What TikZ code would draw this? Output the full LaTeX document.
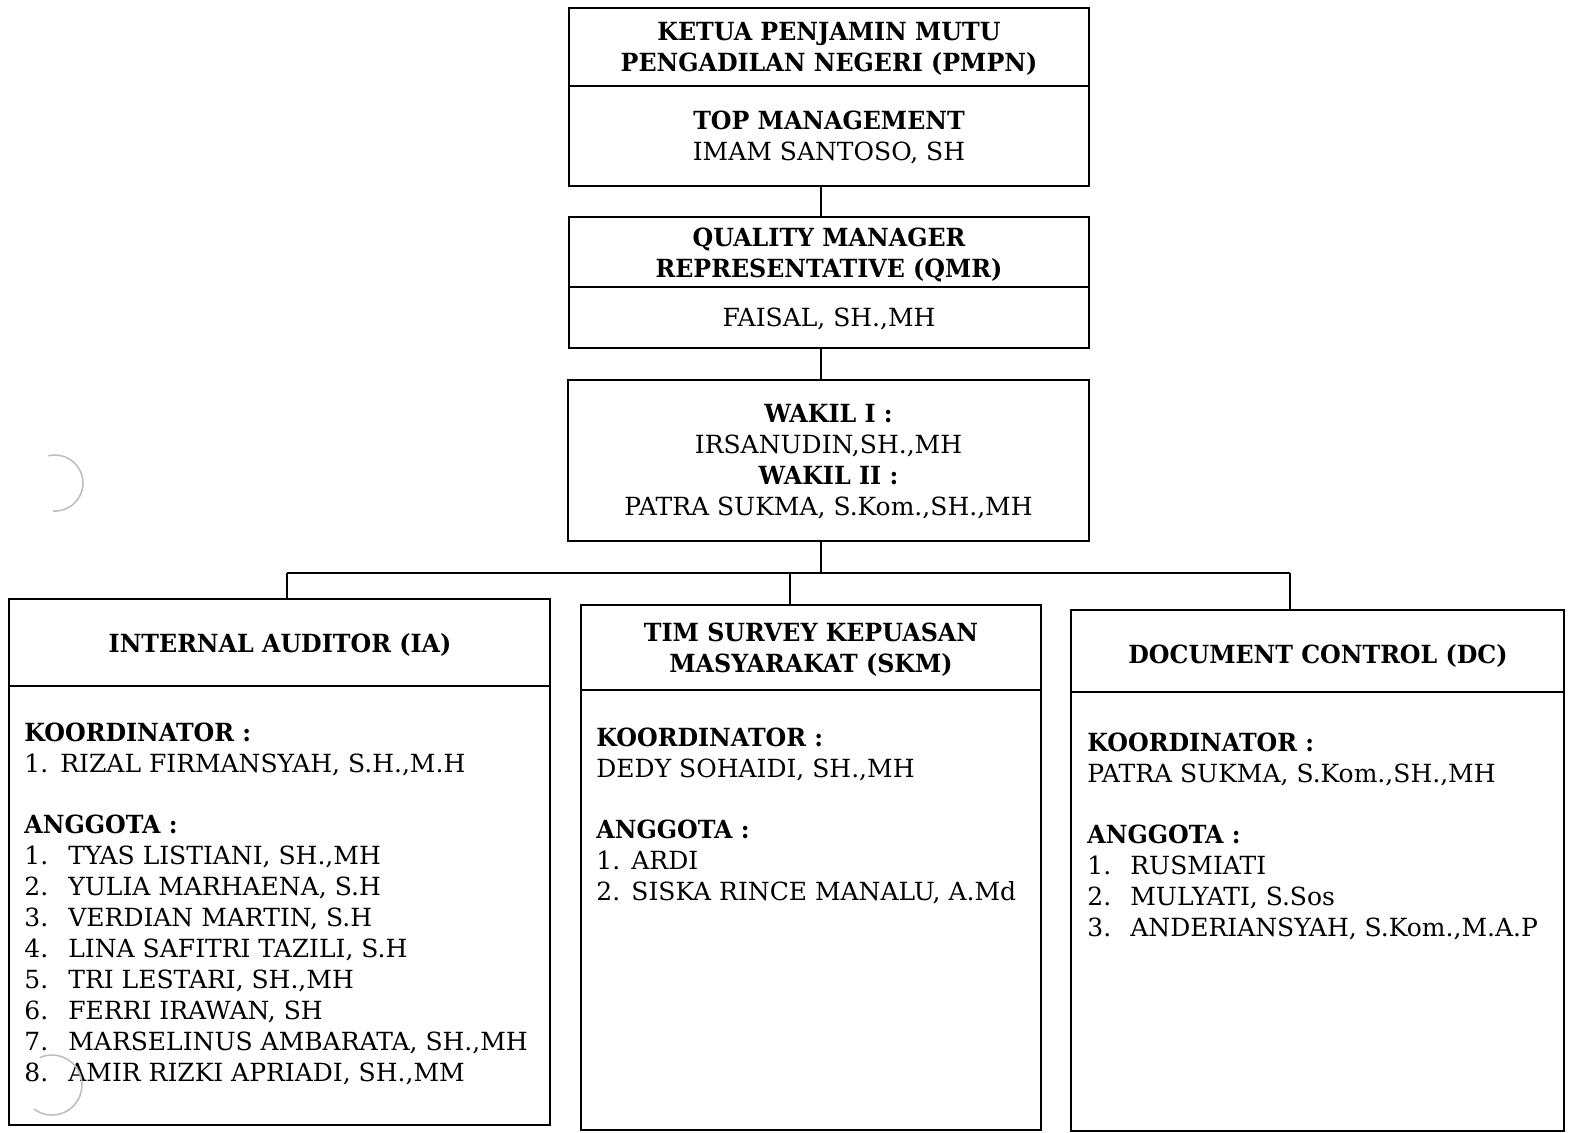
\documentclass[tikz,border=0pt]{standalone}
\usepackage{fontspec}
\setmainfont{DejaVu Serif}[BoldFeatures={FakeStretch=0.95}]
\newcommand{\fs}{\fontsize{12.5pt}{15.5pt}\selectfont}
\begin{document}
\begin{tikzpicture}[x=0.5pt,y=-0.5pt,
  box/.style={draw, line width=0.9pt, inner sep=0pt, rectangle},
  con/.style={line width=0.9pt},
  txt/.style={inner sep=0pt, font=\fs},
  hole/.style={draw=black!25, line width=0.8pt}]
\useasboundingbox (0,0) rectangle (1571,1132);

% top boxes
\node[box, minimum width=260pt, minimum height=89pt] (b1) at (829,97) {};
\draw[con] (b1.west |- 0,86) -- (b1.east |- 0,86);
\node[txt, anchor=base] (t1a) at (829,40) {\parbox[t]{255pt}{\centering\bfseries KETUA PENJAMIN MUTU\\PENGADILAN NEGERI (PMPN)}};
\node[txt, anchor=base] (t1b) at (829,129) {\parbox[t]{255pt}{\centering\textbf{TOP MANAGEMENT}\\IMAM SANTOSO, SH}};

\node[box, minimum width=260pt, minimum height=65.5pt] (b2) at (829,282.5) {};
\draw[con] (b2.west |- 0,287) -- (b2.east |- 0,287);
\node[txt, anchor=base] (t2a) at (829,246) {\parbox[t]{255pt}{\centering\bfseries QUALITY MANAGER\\REPRESENTATIVE (QMR)}};
\node[txt, anchor=base] (t2b) at (829,326) {FAISAL, SH.,MH};

\node[box, minimum width=260.5pt, minimum height=80.5pt] (b3) at (828.5,460.5) {};
\node[txt, anchor=base] (t3) at (828.5,422) {\parbox[t]{255pt}{\centering\textbf{WAKIL I :}\\IRSANUDIN,SH.,MH\\\textbf{WAKIL II :}\\PATRA SUKMA, S.Kom.,SH.,MH}};

% bottom boxes
\node[box, minimum width=270.5pt, minimum height=263pt] (ia) at (279.5,862) {};
\draw[con] (ia.west |- 0,686) -- (ia.east |- 0,686);
\node[txt, anchor=base] (iat) at (280,652) {\bfseries INTERNAL AUDITOR (IA)};
\node[txt, anchor=base west] (iac) at (24,741) {\parbox[t]{262pt}{%
\textbf{KOORDINATOR :}\\
\makebox[18pt][l]{1.}RIZAL FIRMANSYAH, S.H.,M.H\\[15pt]
\textbf{ANGGOTA :}\\
\makebox[22pt][l]{1.}TYAS LISTIANI, SH.,MH\\
\makebox[22pt][l]{2.}YULIA MARHAENA, S.H\\
\makebox[22pt][l]{3.}VERDIAN MARTIN, S.H\\
\makebox[22pt][l]{4.}LINA SAFITRI TAZILI, S.H\\
\makebox[22pt][l]{5.}TRI LESTARI, SH.,MH\\
\makebox[22pt][l]{6.}FERRI IRAWAN, SH\\
\makebox[22pt][l]{7.}MARSELINUS AMBARATA, SH.,MH\\
\makebox[22pt][l]{8.}AMIR RIZKI APRIADI, SH.,MM}};

\node[box, minimum width=230pt, minimum height=262.5pt] (skm) at (811,867.5) {};
\draw[con] (skm.west |- 0,690) -- (skm.east |- 0,690);
\node[txt, anchor=base] (skmt) at (811,641) {\parbox[t]{225pt}{\centering\bfseries TIM SURVEY KEPUASAN\\MASYARAKAT (SKM)}};
\node[txt, anchor=base west] (skmc) at (596,746) {\parbox[t]{222pt}{%
\textbf{KOORDINATOR :}\\
DEDY SOHAIDI, SH.,MH\\[15pt]
\textbf{ANGGOTA :}\\
\makebox[17.5pt][l]{1.}ARDI\\
\makebox[17.5pt][l]{2.}SISKA RINCE MANALU, A.Md}};

\node[box, minimum width=246.5pt, minimum height=260.5pt] (dc) at (1317.5,870.5) {};
\draw[con] (dc.west |- 0,692) -- (dc.east |- 0,692);
\node[txt, anchor=base] (dct) at (1318,663) {\bfseries DOCUMENT CONTROL (DC)};
\node[txt, anchor=base west] (dcc) at (1087,751) {\parbox[t]{238pt}{%
\textbf{KOORDINATOR :}\\
PATRA SUKMA, S.Kom.,SH.,MH\\[15pt]
\textbf{ANGGOTA :}\\
\makebox[21.5pt][l]{1.}RUSMIATI\\
\makebox[21.5pt][l]{2.}MULYATI, S.Sos\\
\makebox[21.5pt][l]{3.}ANDERIANSYAH, S.Kom.,M.A.P}};

% connectors
\coordinate (bus) at (821,573);
\coordinate (jia) at (287,573);
\coordinate (jskm) at (790,573);
\coordinate (jdc) at (1290,573);
\draw[con] (b1.south -| bus) -- (b2.north -| bus);
\draw[con] (b2.south -| bus) -- (b3.north -| bus);
\draw[con] (b3.south -| bus) -- (bus);
\draw[con] (jia) -- (jdc);
\draw[con] (jia) -- (jia |- ia.north);
\draw[con] (jskm) -- (jskm |- skm.north);
\draw[con] (jdc) -- (jdc |- dc.north);

% punch-hole marks of the scan
\draw[hole] (55,483) ++(104:14pt) arc[start angle=104, end angle=-94, radius=14pt];
\draw[hole] (52,1085) ++(114:15pt) arc[start angle=114, end angle=-127, radius=15pt];
\end{tikzpicture}
\end{document}
